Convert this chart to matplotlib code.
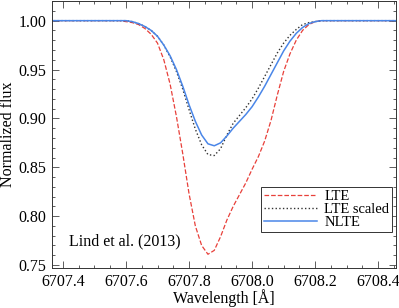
import matplotlib
matplotlib.use('Agg')
import matplotlib.pyplot as plt
from matplotlib.ticker import MultipleLocator
import numpy as np

# wavelength grid (Angstrom)
wl = [6707.36, 6707.50, 6707.56, 6707.58, 6707.60, 6707.62, 6707.64, 6707.66, 6707.68,
      6707.70, 6707.72, 6707.74, 6707.76, 6707.78, 6707.80, 6707.82, 6707.84,
      6707.86, 6707.88, 6707.90, 6707.92, 6707.94, 6707.96, 6707.98, 6708.00,
      6708.02, 6708.04, 6708.06, 6708.08, 6708.10, 6708.12, 6708.14, 6708.16,
      6708.18, 6708.20, 6708.22, 6708.26, 6708.30, 6708.40, 6708.46]

lte = [1.000, 1.000, 1.000, 1.000, 0.999, 0.998, 0.996, 0.992, 0.986,
       0.977, 0.960, 0.935, 0.902, 0.864, 0.823, 0.790, 0.770,
       0.761, 0.765, 0.779, 0.796, 0.810, 0.822, 0.834, 0.848,
       0.861, 0.877, 0.898, 0.924, 0.948, 0.966, 0.980, 0.990,
       0.996, 0.999, 1.000, 1.000, 1.000, 1.000, 1.000]

lte_scaled = [1.000, 1.000, 1.000, 1.000, 1.000, 0.999, 0.997, 0.994, 0.990,
              0.984, 0.975, 0.963, 0.948, 0.930, 0.909, 0.889, 0.873,
              0.863, 0.862, 0.869, 0.883, 0.895, 0.903, 0.911, 0.920,
              0.931, 0.943, 0.955, 0.967, 0.977, 0.985, 0.991, 0.996,
              0.998, 0.999, 1.000, 1.000, 1.000, 1.000, 1.000]

nlte = [1.000, 1.000, 1.000, 1.000, 1.000, 0.999, 0.997, 0.994, 0.990,
        0.984, 0.975, 0.964, 0.950, 0.933, 0.914, 0.897, 0.883,
        0.874, 0.872, 0.875, 0.882, 0.890, 0.897, 0.904, 0.912,
        0.922, 0.933, 0.945, 0.957, 0.969, 0.979, 0.987, 0.993,
        0.997, 0.999, 1.000, 1.000, 1.000, 1.000, 1.000]

plt.rcParams['font.family'] = ['Liberation Serif', 'DejaVu Serif']
plt.rcParams['font.size'] = 11.5

fig = plt.figure(figsize=(3.99, 3.08), dpi=100)
ax = fig.add_axes([0.130, 0.130, 0.863, 0.868])

ax.plot(wl, lte, '--', color='#e8403a', lw=0.9, label='LTE')
ax.plot(wl, lte_scaled, ':', color='#333333', lw=1.0, label='LTE scaled')
ax.plot(wl, nlte, '-', color='#4a86e8', lw=1.1, label='NLTE')

ax.set_xlim(6707.365, 6708.457)
ax.set_ylim(0.747, 1.0205)
ax.xaxis.set_major_locator(MultipleLocator(0.2))
ax.xaxis.set_minor_locator(MultipleLocator(0.05))
ax.yaxis.set_major_locator(MultipleLocator(0.05))
ax.yaxis.set_minor_locator(MultipleLocator(0.01))
ax.xaxis.set_major_formatter(plt.FormatStrFormatter('%.1f'))
ax.yaxis.set_major_formatter(plt.FormatStrFormatter('%.2f'))
ax.tick_params(which='both', direction='in', top=True, right=True, width=0.6, color='#444444')
ax.tick_params(which='major', length=5, pad=4)
ax.tick_params(which='minor', length=2.5)
for s in ax.spines.values():
    s.set_linewidth(0.7)
    s.set_color('#333333')

ax.set_xlabel('Wavelength [Å]', labelpad=0)
ax.set_ylabel('Normalized flux', labelpad=2)

ax.text(6707.418, 0.774, 'Lind et al. (2013)', va='center', ha='left')

leg = ax.legend(loc='lower right', bbox_to_anchor=(0.988, 0.134), fancybox=False,
                edgecolor='#333333', framealpha=1, handlelength=3.6, fontsize=10.5,
                borderpad=0.2, labelspacing=0.0, handletextpad=0.5, borderaxespad=0)
leg.get_frame().set_linewidth(0.7)

fig.savefig('out.png', dpi=100)
